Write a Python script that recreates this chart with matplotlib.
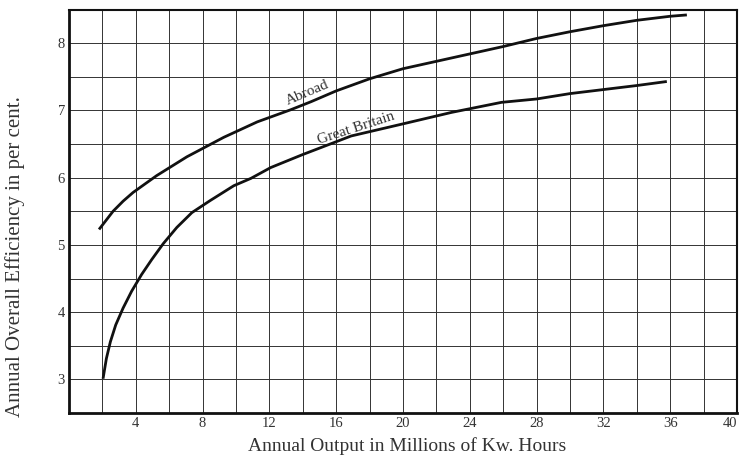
import numpy as np
import matplotlib
matplotlib.use("Agg")
import matplotlib.pyplot as plt

# Curve readings (output in millions of kWh, efficiency in per cent)
abroad_x = [1.8, 2.64, 3.24, 3.84, 5.25, 7.06, 9.27, 11.28, 13.28, 14.5, 16, 18, 20, 22, 24, 26, 28, 30, 32, 34, 36, 37]
abroad_y = [5.23, 5.50, 5.65, 5.78, 6.03, 6.31, 6.60, 6.83, 7.01, 7.13, 7.29, 7.47, 7.62, 7.73, 7.84, 7.95, 8.07, 8.17, 8.26, 8.34, 8.40, 8.42]

britain_x = [2.04, 2.24, 2.48, 2.8, 3.24, 3.75, 4.35, 4.95, 5.65, 6.46, 7.36, 8.46, 9.87, 10.9, 12.08, 13.96, 16.9, 20, 22.9, 25.9, 28, 30, 32, 34, 35.8]
britain_y = [3.01, 3.31, 3.56, 3.81, 4.06, 4.31, 4.56, 4.78, 5.02, 5.26, 5.48, 5.66, 5.88, 5.99, 6.15, 6.34, 6.62, 6.80, 6.97, 7.12, 7.17, 7.25, 7.31, 7.37, 7.43]

x_ticks = [4, 8, 12, 16, 20, 24, 28, 32, 36, 40]
y_ticks = [3, 4, 5, 6, 7, 8]

plt.rcParams['font.family'] = ['Liberation Serif', 'DejaVu Serif']

fig = plt.figure(figsize=(7.4, 4.59), dpi=100)
ax = fig.add_axes([0.0932, 0.1002, 0.9027, 0.879])

ax.set_xlim(0, 40)
ax.set_ylim(2.5, 8.5)

# fine grid every 2 units / 0.5 per cent
ax.set_xticks(x_ticks)
ax.set_yticks(y_ticks)
ax.set_xticks(np.arange(0, 41, 2), minor=True)
ax.set_yticks(np.arange(2.5, 8.51, 0.5), minor=True)
ax.grid(which='both', color='#333333', linewidth=0.7)
ax.set_xticklabels([str(t) for t in x_ticks], fontsize=10.5, color='#333333')
ax.set_yticklabels([str(t) for t in y_ticks], fontsize=10.5, color='#333333')
ax.tick_params(which='both', length=0, pad=3)
ax.get_xticklabels()[-1].set_horizontalalignment('right')
ax.set_axisbelow(True)

for side, lw in [('left', 2.0), ('bottom', 2.0), ('top', 1.5), ('right', 1.5)]:
    ax.spines[side].set_linewidth(lw)
    ax.spines[side].set_color('#111111')

ax.plot(abroad_x, abroad_y, color='#111111', linewidth=2.0, solid_capstyle='butt')
ax.plot(britain_x, britain_y, color='#111111', linewidth=2.0, solid_capstyle='butt')

ax.text(14.3, 7.26, "Abroad", rotation=23, fontsize=11, color='#333333',
        ha='center', va='center')
ax.text(17.2, 6.74, "Great Britain", rotation=18, fontsize=11, color='#333333',
        ha='center', va='center')

fig.text(0.55, 0.028, "Annual Output in Millions of Kw. Hours", fontsize=14,
         color='#333333', ha='center', va='center')
fig.text(0.021, 0.44, "Annual Overall Efficiency in per cent.", fontsize=15,
         color='#333333', ha='center', va='center', rotation=90)

fig.savefig("out.png", dpi=100, facecolor='white')
